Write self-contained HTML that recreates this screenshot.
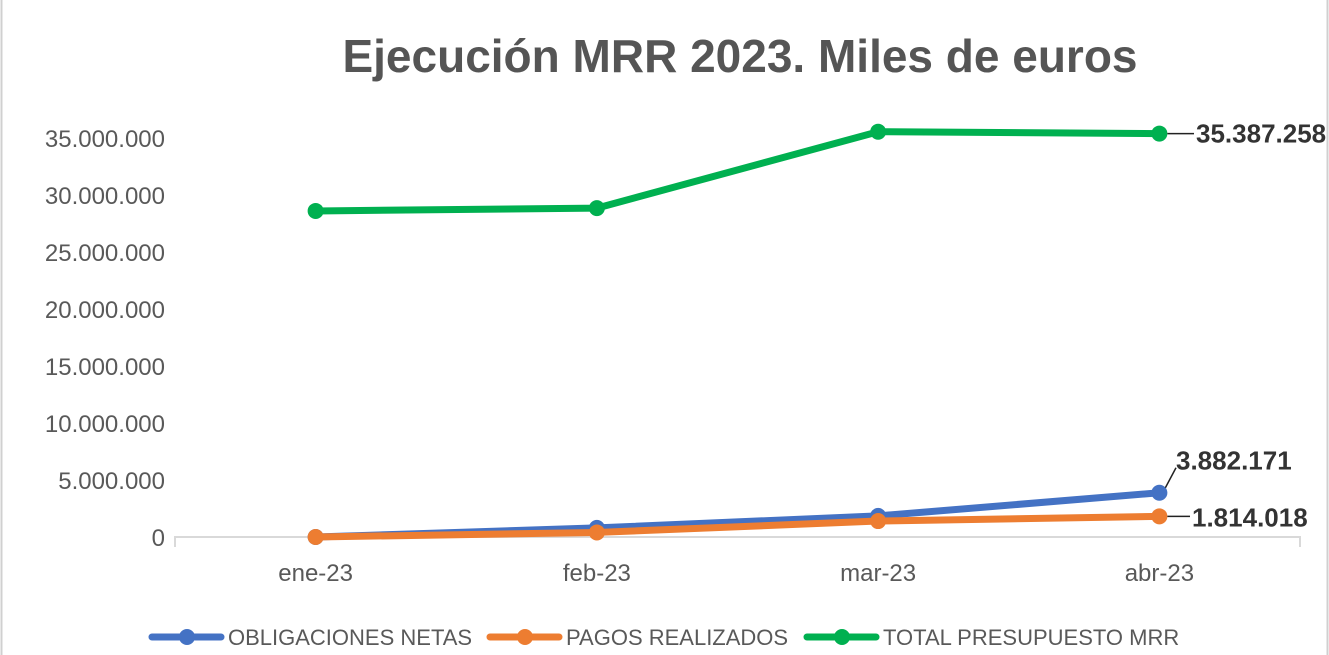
<!DOCTYPE html>
<html><head><meta charset="utf-8"><style>
body{margin:0;background:#fff}
svg{display:block;font-family:"Liberation Sans",sans-serif}
</style></head><body>
<svg id="c" width="1329" height="655">
<rect x="1.5" y="-2" width="1326" height="660" fill="#fff" stroke="#d0d0d0" stroke-width="2"/>
<text x="740" y="72" text-anchor="middle" font-size="46" font-weight="bold" fill="#555">Ejecución MRR 2023. Miles de euros</text>
<g id="axes"></g><g id="series"></g>
<g id="legend"></g>
</svg>
<script>
const categories=["ene-23","feb-23","mar-23","abr-23"];
const obligaciones=[0,800000,1850000,3882171];
const pagos=[0,400000,1400000,1814018];
const total=[28600000,28850000,35550000,35387258];
const yTicks=[0,5000000,10000000,15000000,20000000,25000000,30000000,35000000];
const yTickLabels=["0","5.000.000","10.000.000","15.000.000","20.000.000","25.000.000","30.000.000","35.000.000"];
const NS="http://www.w3.org/2000/svg";
const x0=175,x1=1300,y0=537,perUnit=57/5000000;
const xs=i=>x0+(x1-x0)/categories.length*(i+0.5);
const ys=v=>y0-v*perUnit;
function mk(t,a,p){const e=document.createElementNS(NS,t);for(const k in a)e.setAttribute(k,a[k]);p.appendChild(e);return e;}
const ax=document.getElementById('axes');
let l=mk('path',{d:`M${x0} ${y0+10}V${y0}H${x1}V${y0+10}`,fill:'none',stroke:'#d9d9d9','stroke-width':2},ax);


yTicks.forEach((v,i)=>{const t=mk('text',{x:165,y:ys(v)+9,'text-anchor':'end','font-size':24,fill:'#595959'},ax);t.textContent=yTickLabels[i];

});
categories.forEach((c,i)=>{const t=mk('text',{x:xs(i),y:581,'text-anchor':'middle','font-size':24,fill:'#595959'},ax);t.textContent=c;

});
const sg=document.getElementById('series');
const defs=[[obligaciones,'#4472c4','obligaciones-netas-line'],[pagos,'#ed7d31','pagos-realizados-line'],[total,'#00b050','total-presupuesto-line']];
defs.forEach(([d,col,name])=>{const g=mk('g',{},sg);


mk('polyline',{points:d.map((v,i)=>xs(i)+','+ys(v)).join(' '),fill:'none',stroke:col,'stroke-width':7,'stroke-linejoin':'round','stroke-linecap':'round'},g);
d.forEach((v,i)=>{const c=mk('circle',{cx:xs(i),cy:ys(v),r:8,fill:col},g);

});});
function label(v,x,y,lx1,ly1,lx2,ly2){mk('line',{x1:lx1,y1:ly1,x2:lx2,y2:ly2,stroke:'#222','stroke-width':1.5},sg);
const t=mk('text',{x,y,'font-size':26,'font-weight':'bold',fill:'#333'},sg);t.textContent=v.toLocaleString('de-DE');

}
const n=categories.length-1;
label(total[n],1196,ys(total[n])+9,xs(n)+8,ys(total[n]),1194,ys(total[n]));
label(pagos[n],1192,ys(pagos[n])+10,xs(n)+8,ys(pagos[n]),1190,ys(pagos[n]));
label(obligaciones[n],1176,ys(obligaciones[n])-23,xs(n)+6,ys(obligaciones[n])-5,1176,ys(obligaciones[n])-25);
const lg=document.getElementById('legend');
[["OBLIGACIONES NETAS",'#4472c4',150],["PAGOS REALIZADOS",'#ed7d31',488],["TOTAL PRESUPUESTO MRR",'#00b050',805]].forEach(([n2,col,x])=>{
const g=mk('g',{},lg);


mk('line',{x1:x+2,y1:637,x2:x+71,y2:637,stroke:col,'stroke-width':7,'stroke-linecap':'round'},g);
mk('circle',{cx:x+37,cy:637,r:8,fill:col},g);
const t=mk('text',{x:x+78,y:645,'font-size':22,fill:'#595959'},g);t.textContent=n2;});
</script>
</body></html>
